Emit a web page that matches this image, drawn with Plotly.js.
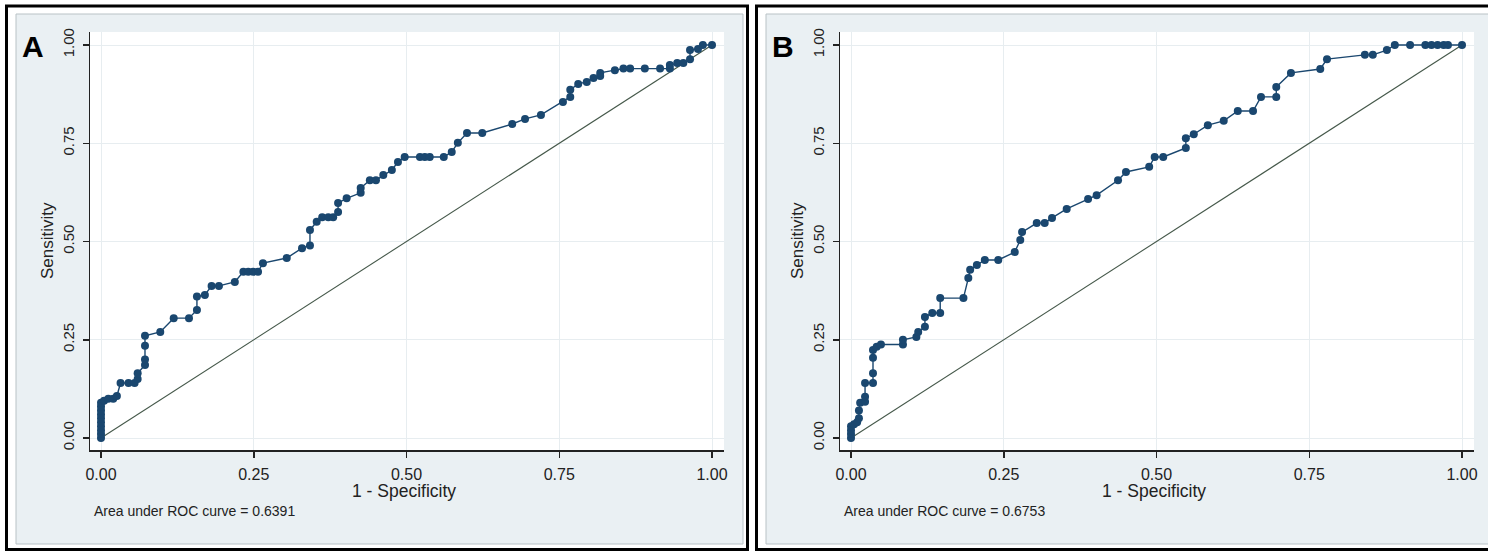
<!DOCTYPE html>
<html>
<head>
<meta charset="utf-8">
<script src="https://cdn.plot.ly/plotly-3.0.1.min.js"></script>
<style>html,body{margin:0;padding:0;background:#fff;}#chart{width:1488px;height:552px;}</style>
</head>
<body>
<div id="chart"></div>
<script>
// ---- data ----
var panelLabels = ["A", "B"];
var aucTexts = ["Area under ROC curve = 0.6391", "Area under ROC curve = 0.6753"];
var xTitle = "1 - Specificity";
var yTitle = "Sensitivity";
var tickVals = [0, 0.25, 0.5, 0.75, 1];
var tickText = ["0.00", "0.25", "0.50", "0.75", "1.00"];
var refLine = [0, 1];

var fprA = [0,0,0,0,0,0,0,0,0,0,0.005,0.012,0.02,0.026,0.032,0.045,0.055,0.06,0.06,0.072,0.072,0.072,0.072,0.097,0.119,0.144,0.157,0.157,0.170,0.181,0.193,0.219,0.233,0.241,0.249,0.257,0.265,0.304,0.329,0.342,0.342,0.353,0.362,0.372,0.38,0.388,0.388,0.402,0.425,0.425,0.44,0.45,0.462,0.476,0.486,0.497,0.522,0.53,0.538,0.561,0.574,0.584,0.599,0.624,0.673,0.694,0.72,0.756,0.768,0.768,0.781,0.795,0.806,0.817,0.817,0.841,0.855,0.866,0.89,0.915,0.931,0.931,0.943,0.953,0.964,0.964,0.977,0.985,1];
var sensA = [0,0.01,0.02,0.03,0.04,0.05,0.06,0.07,0.08,0.09,0.095,0.10,0.10,0.107,0.14,0.14,0.14,0.15,0.165,0.186,0.2,0.235,0.26,0.27,0.305,0.305,0.326,0.36,0.364,0.387,0.387,0.397,0.423,0.423,0.423,0.423,0.445,0.458,0.483,0.49,0.529,0.55,0.562,0.562,0.562,0.575,0.598,0.61,0.624,0.636,0.656,0.656,0.669,0.682,0.702,0.715,0.715,0.715,0.715,0.715,0.728,0.751,0.776,0.776,0.799,0.812,0.822,0.855,0.868,0.886,0.901,0.906,0.916,0.921,0.929,0.936,0.94,0.94,0.94,0.94,0.94,0.949,0.954,0.954,0.964,0.987,0.99,1.0,1];

var fprB = [0,0,0,0,0.005,0.01,0.013,0.013,0.015,0.023,0.023,0.023,0.036,0.036,0.036,0.036,0.042,0.049,0.085,0.085,0.107,0.11,0.121,0.121,0.133,0.146,0.146,0.184,0.192,0.195,0.206,0.219,0.241,0.268,0.277,0.28,0.304,0.317,0.329,0.353,0.388,0.402,0.437,0.45,0.488,0.497,0.511,0.548,0.548,0.561,0.584,0.61,0.633,0.658,0.671,0.696,0.696,0.72,0.768,0.779,0.841,0.854,0.877,0.89,0.915,0.94,0.95,0.96,0.97,0.977,1];
var sensB = [0,0.01,0.02,0.03,0.035,0.04,0.05,0.07,0.09,0.092,0.105,0.14,0.14,0.165,0.204,0.224,0.232,0.238,0.238,0.25,0.257,0.27,0.283,0.308,0.318,0.318,0.356,0.356,0.407,0.428,0.44,0.453,0.453,0.473,0.504,0.524,0.547,0.547,0.56,0.583,0.608,0.618,0.656,0.677,0.69,0.715,0.715,0.738,0.763,0.773,0.796,0.807,0.832,0.832,0.868,0.868,0.893,0.929,0.939,0.964,0.975,0.975,0.987,1,1,1,1,1,1,1,1];

// ---- layout helpers (pixel -> paper) ----
var W = 1488, H = 552;
function px(x){ return x / W; }
function py(y){ return 1 - y / H; }

var navy = "#1a476f";
var font = "Liberation Sans, Arial, sans-serif";
var panelFill = "#eaf0f3";
var gridCol = "#e7edf0";

function curveTrace(x, y, xa, ya){
  return {x:x, y:y, xaxis:xa, yaxis:ya, type:"scatter", mode:"lines+markers",
    line:{color:navy, width:1.4}, marker:{color:navy, size:8, symbol:"circle"},
    hoverinfo:"x+y", showlegend:false};
}
function refTrace(xa, ya){
  return {x:refLine, y:refLine, xaxis:xa, yaxis:ya, type:"scatter", mode:"lines",
    line:{color:"#45584a", width:1.1}, hoverinfo:"skip", showlegend:false};
}

var data = [refTrace("x","y"), curveTrace(fprA, sensA, "x", "y"),
            refTrace("x2","y2"), curveTrace(fprB, sensB, "x2", "y2")];

function xAxis(dom){
  return {domain:dom, range:[-0.018, 1.0196], tickmode:"array", tickvals:tickVals, ticktext:tickText,
    showgrid:true, gridcolor:gridCol, gridwidth:1, zeroline:false, showline:true, linecolor:"#222", linewidth:1.5,
    ticks:"outside", ticklen:6, tickwidth:1.5, tickcolor:"#222", ticklabelstandoff:3,
    tickfont:{family:font, size:16, color:"#222"}, fixedrange:true};
}
function yAxis(dom, anchor){
  return {domain:dom, anchor:anchor, range:[-0.0305, 1.0331], tickmode:"array", tickvals:tickVals, ticktext:tickText,
    showgrid:true, gridcolor:gridCol, gridwidth:1, zeroline:false, showline:true, linecolor:"#222", linewidth:1.5,
    ticks:"outside", ticklen:6, tickwidth:1.5, tickcolor:"#222", tickangle:-90, ticklabelstandoff:3,
    tickfont:{family:font, size:15, color:"#222"}, fixedrange:true};
}

var yDom = [py(450), py(32)];
var layout = {
  width:W, height:H, margin:{l:0, r:0, t:0, b:0}, paper_bgcolor:"#ffffff", plot_bgcolor:"#ffffff",
  showlegend:false,
  xaxis: Object.assign(xAxis([px(90), px(724)]), {anchor:"y"}),
  yaxis: yAxis(yDom, "x"),
  xaxis2: Object.assign(xAxis([px(840), px(1474)]), {anchor:"y2"}),
  yaxis2: yAxis(yDom, "x2"),
  shapes: [
    // outer black frames
    {type:"rect", xref:"paper", yref:"paper", x0:px(6.5), x1:px(747.5), y0:py(549.5), y1:py(6), line:{color:"#000", width:3}, layer:"below"},
    {type:"rect", xref:"paper", yref:"paper", x0:px(756.5), x1:px(1495), y0:py(549.5), y1:py(6), line:{color:"#000", width:3}, layer:"below"},
    // graph regions
    {type:"rect", xref:"paper", yref:"paper", x0:px(16), x1:px(743), y0:py(544), y1:py(14), fillcolor:panelFill, line:{color:"#b9c2c6", width:1}, layer:"below"},
    {type:"rect", xref:"paper", yref:"paper", x0:px(766), x1:px(1495), y0:py(544), y1:py(14), fillcolor:panelFill, line:{color:"#b9c2c6", width:1}, layer:"below"},
    // white plot regions
    {type:"rect", xref:"paper", yref:"paper", x0:px(90), x1:px(724), y0:py(450), y1:py(32), fillcolor:"#ffffff", line:{width:0}, layer:"below"},
    {type:"rect", xref:"paper", yref:"paper", x0:px(840), x1:px(1474), y0:py(450), y1:py(32), fillcolor:"#ffffff", line:{width:0}, layer:"below"}
  ],
  annotations: []
};

var panelX = [0, 750];
for (var i = 0; i < 2; i++){
  var ox = panelX[i];
  layout.annotations.push(
    {text:"<b>" + panelLabels[i] + "</b>", xref:"paper", yref:"paper", x:px(33 + ox), y:py(46), xanchor:"center", yanchor:"middle",
     showarrow:false, font:{family:font, size:30, color:"#000"}},
    {text:yTitle, xref:"paper", yref:"paper", x:px(47 + ox), y:py(241), xanchor:"center", yanchor:"middle", textangle:-90,
     showarrow:false, font:{family:font, size:17, color:"#222"}},
    {text:xTitle, xref:"paper", yref:"paper", x:px(404 + ox), y:py(491), xanchor:"center", yanchor:"middle",
     showarrow:false, font:{family:font, size:17.5, color:"#222"}},
    {text:aucTexts[i], xref:"paper", yref:"paper", x:px(92 + ox), y:py(511), xanchor:"left", yanchor:"middle",
     showarrow:false, font:{family:font, size:14, color:"#222"}}
  );
}

Plotly.newPlot("chart", data, layout, {displayModeBar:false, staticPlot:true});
</script>
</body>
</html>
